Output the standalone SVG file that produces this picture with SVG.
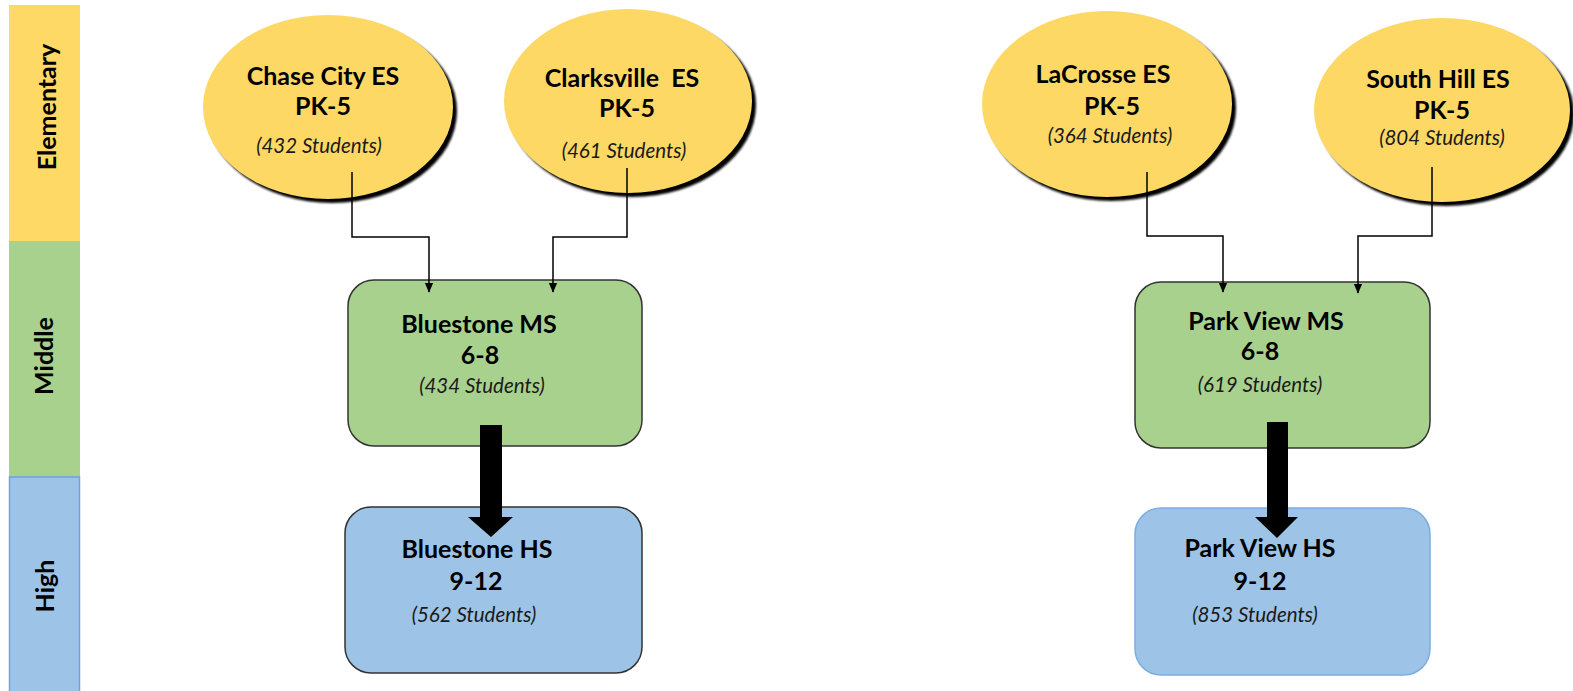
<svg xmlns="http://www.w3.org/2000/svg" width="1573" height="691" viewBox="0 0 1573 691">
<defs>
<marker id="a2" markerWidth="10" markerHeight="12" refX="11" refY="5" orient="auto" markerUnits="userSpaceOnUse" viewBox="0 0 12 10">
<path d="M0,0 L12,5 L0,10 Z" fill="#000"/>
</marker>
<filter id="sh" x="-10%" y="-10%" width="130%" height="130%">
<feGaussianBlur stdDeviation="0.8"/>
</filter>
</defs>
<style>
.band{font-family:Lato,"Liberation Sans",sans-serif;font-weight:bold;font-size:25px;fill:#000}
.b{font-family:Lato,"Liberation Sans",sans-serif;font-weight:bold;font-size:25px;fill:#000;text-anchor:middle}
.i{font-family:Lato,"Liberation Sans",sans-serif;font-style:italic;font-size:20.5px;fill:#1a1a1a;text-anchor:middle}
.ell{fill:#FDD865}
.shd{fill:#000;filter:url(#sh)}
.ms{fill:#A9D18E;stroke:#333;stroke-width:1.5}
.hs{fill:#9DC3E6;stroke:#333;stroke-width:1.5}
.hs2{fill:#9DC3E6;stroke:#7EAEE0;stroke-width:1.5}
.con{fill:none;stroke:#000;stroke-width:1.5}
</style>
<rect width="1573" height="691" fill="#fff"/>
<g id="sidebar">
<rect x="9" y="5" width="71" height="236" fill="#FFD966"/>
<rect x="9" y="241" width="71" height="236" fill="#A9D18E"/>
<rect x="9.5" y="477" width="70" height="216" fill="#9DC3E6" stroke="#6FA3DC" stroke-width="1.5"/>
<text class="band" transform="translate(56,107) rotate(-90)" text-anchor="middle">Elementary</text>
<text class="band" transform="translate(53,356) rotate(-90)" text-anchor="middle">Middle</text>
<text class="band" transform="translate(54,586) rotate(-90)" text-anchor="middle">High</text>
</g>
<g id="chase-city">
<ellipse class="shd" cx="332" cy="111" rx="125" ry="92"/>
<ellipse class="ell" cx="328" cy="107" rx="125" ry="92"/>
<text class="b" x="323" y="85">Chase City ES</text>
<text class="b" x="323" y="115">PK-5</text>
<text class="i" x="319" y="153">(432 Students)</text>
</g>
<g id="clarksville">
<ellipse class="shd" cx="632" cy="105" rx="124" ry="92"/>
<ellipse class="ell" cx="628" cy="101" rx="124" ry="92"/>
<text class="b" x="622" y="87" xml:space="preserve">Clarksville  ES</text>
<text class="b" x="627" y="117">PK-5</text>
<text class="i" x="624" y="158">(461 Students)</text>
</g>
<g id="lacrosse">
<ellipse class="shd" cx="1111" cy="108" rx="125" ry="93"/>
<ellipse class="ell" cx="1107" cy="104" rx="125" ry="93"/>
<text class="b" x="1103" y="83">LaCrosse ES</text>
<text class="b" x="1112" y="115">PK-5</text>
<text class="i" x="1110" y="143">(364 Students)</text>
</g>
<g id="south-hill">
<ellipse class="shd" cx="1446" cy="114" rx="128" ry="92"/>
<ellipse class="ell" cx="1442" cy="110" rx="128" ry="92"/>
<text class="b" x="1438" y="88">South Hill ES</text>
<text class="b" x="1442" y="119">PK-5</text>
<text class="i" x="1442" y="145">(804 Students)</text>
</g>
<g id="bluestone-ms">
<rect class="ms" x="348" y="280" width="294" height="166" rx="26"/>
<text class="b" x="479" y="333">Bluestone MS</text>
<text class="b" x="480" y="364">6-8</text>
<text class="i" x="482" y="393">(434 Students)</text>
</g>
<g id="bluestone-hs">
<rect class="hs" x="345" y="507" width="297" height="166" rx="26"/>
<text class="b" x="477" y="558">Bluestone HS</text>
<text class="b" x="476" y="590">9-12</text>
<text class="i" x="474" y="622">(562 Students)</text>
</g>
<g id="park-view-ms">
<rect class="ms" x="1135" y="282" width="295" height="166" rx="26"/>
<text class="b" x="1266" y="330">Park View MS</text>
<text class="b" x="1260" y="360">6-8</text>
<text class="i" x="1260" y="392">(619 Students)</text>
</g>
<g id="park-view-hs">
<rect class="hs2" x="1135" y="508" width="295" height="167" rx="26"/>
<text class="b" x="1260" y="557">Park View HS</text>
<text class="b" x="1260" y="590">9-12</text>
<text class="i" x="1255" y="622">(853 Students)</text>
</g>
<g id="connectors">
<path class="con" d="M352,172 V237 H429 V292" marker-end="url(#a2)"/>
<path class="con" d="M627,168 V237 H553 V292" marker-end="url(#a2)"/>
<path class="con" d="M1147,172 V236 H1223 V292" marker-end="url(#a2)"/>
<path class="con" d="M1432,167 V236 H1358 V293" marker-end="url(#a2)"/>
<path d="M480,425 H502 V517 H513 L491,537 L468,517 H480 Z" fill="#000"/>
<path d="M1267,422 H1288 V517 H1298 L1277,538 L1255,517 H1267 Z" fill="#000"/>
</g>
</svg>
